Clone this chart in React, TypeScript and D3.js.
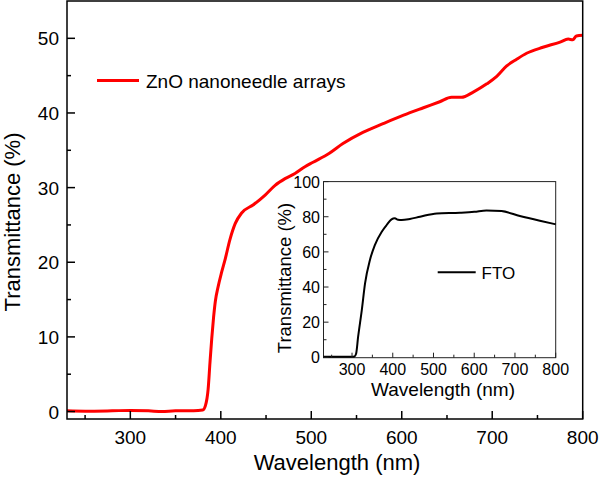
import React from "react";
import * as d3 from "d3";

// ---- data ----
const znoWavelength = [230, 250, 280, 300, 320, 335, 350, 370, 380, 383, 386, 388, 390, 392, 394, 397, 401, 405, 410, 416, 423, 436, 449, 460, 471, 482, 493, 502, 520, 535, 557, 580, 602, 624, 642, 655, 666, 679, 694, 705, 716, 727, 738, 756, 775, 784, 789, 793, 800];
const znoTransmittance = [0.1, 0.05, 0.1, 0.15, 0.1, 0.0, 0.1, 0.1, 0.2, 0.8, 3.0, 6.5, 9.8, 12.6, 14.8, 16.7, 18.7, 20.5, 23.0, 25.2, 26.6, 27.7, 29.0, 30.3, 31.2, 31.9, 32.8, 33.4, 34.6, 35.9, 37.4, 38.6, 39.7, 40.7, 41.5, 42.1, 42.1, 42.8, 43.9, 44.9, 46.3, 47.2, 48.0, 48.8, 49.5, 49.9, 49.8, 50.3, 50.4];

const ftoWavelength = [230, 280, 300, 306, 310, 315, 324, 332, 344, 356, 373, 385, 397, 405, 413, 422, 442, 467, 508, 565, 600, 630, 667, 712, 761, 798, 800];
const ftoTransmittance = [0.3, 0.3, 0.3, 0.5, 2.0, 11.7, 26.9, 42.1, 55.4, 63.9, 71.5, 75.3, 78.5, 79.1, 78.3, 78.1, 78.7, 80, 81.9, 82.3, 82.8, 83.6, 83.2, 80.4, 77.7, 75.8, 75.7];

const mainXTicks = [300, 400, 500, 600, 700, 800];
const mainXMinor = [250, 350, 450, 550, 650, 750];
const mainYTicks = [0, 10, 20, 30, 40, 50];
const mainYMinor = [5, 15, 25, 35, 45];
const insetXTicks = [300, 400, 500, 600, 700, 800];
const insetXMinor = [250, 350, 450, 550, 650, 750];
const insetYTicks = [0, 20, 40, 60, 80, 100];
const insetYMinor = [10, 30, 50, 70, 90];

const xLabel = "Wavelength (nm)";
const yLabel = "Transmittance (%)";
const znoName = "ZnO nanoneedle arrays";
const ftoName = "FTO";

const FONT = "'Liberation Sans', Arial, Helvetica, sans-serif";

export default function App() {
  // main scales
  const x = d3.scaleLinear().domain([230, 800]).range([67, 582.7]);
  const y = d3.scaleLinear().domain([-1, 55]).range([419, 1]);
  // inset scales
  const ix = d3.scaleLinear().domain([230, 800]).range([323.5, 555.7]);
  const iy = d3.scaleLinear().domain([0, 100]).range([357.3, 181.6]);

  const znoData = znoWavelength.map((w, i) => [w, znoTransmittance[i]] as [number, number]);
  const ftoData = ftoWavelength.map((w, i) => [w, ftoTransmittance[i]] as [number, number]);

  const mainLine = d3.line<[number, number]>().x(d => x(d[0])).y(d => y(d[1])).curve(d3.curveMonotoneX);
  const insetLine = d3.line<[number, number]>().x(d => ix(d[0])).y(d => iy(d[1])).curve(d3.curveMonotoneX);

  const [x0, x1] = x.range();
  const [yb, yt] = y.range();
  const [ix0, ix1] = ix.range();
  const iyb = 357.7;
  const iyt = iy(100);

  return (
    <svg width={600} height={478} style={{ position: "absolute", left: 0, top: 0, background: "#fff" }} fontFamily={FONT}>
      <rect x={0} y={0} width={600} height={478} fill="#fff" />
      {/* main data */}
      <path d={mainLine(znoData) || ""} fill="none" stroke="#ff0000" strokeWidth={3} strokeLinejoin="round" />

      {/* main frame */}
      <rect x={x0} y={yt} width={x1 - x0} height={yb - yt} fill="none" stroke="#000" strokeWidth={1.5} />

      {/* main x ticks */}
      {mainXTicks.map(t => (
        <g key={"mx" + t}>
          <line x1={x(t)} x2={x(t)} y1={yb} y2={yb - 8} stroke="#000" strokeWidth={1.5} />
          <text x={x(t)} y={444} fontSize={19} textAnchor="middle">{t}</text>
        </g>
      ))}
      {mainXMinor.map(t => (
        <line key={"mxm" + t} x1={x(t)} x2={x(t)} y1={yb} y2={yb - 4} stroke="#000" strokeWidth={1.5} />
      ))}
      {/* main y ticks */}
      {mainYTicks.map(t => (
        <g key={"my" + t}>
          <line x1={x0} x2={x0 + 8} y1={y(t)} y2={y(t)} stroke="#000" strokeWidth={1.5} />
          <text x={59} y={y(t) + 7} fontSize={19} textAnchor="end">{t}</text>
        </g>
      ))}
      {mainYMinor.map(t => (
        <line key={"mym" + t} x1={x0} x2={x0 + 4} y1={y(t)} y2={y(t)} stroke="#000" strokeWidth={1.5} />
      ))}

      {/* main axis titles */}
      <text x={337} y={470} fontSize={22} textAnchor="middle">{xLabel}</text>
      <text transform={`translate(20, ${(yb + yt) / 2 + 12}) rotate(-90)`} fontSize={22} textAnchor="middle">{yLabel}</text>

      {/* main legend */}
      <line x1={97} x2={139} y1={80.5} y2={80.5} stroke="#ff0000" strokeWidth={3} />
      <text x={146} y={87.5} fontSize={19}>{znoName}</text>

      {/* inset */}
      <rect x={ix0} y={iyt} width={ix1 - ix0} height={iyb - iyt} fill="#fff" stroke="#222" strokeWidth={1} />
      <path d={insetLine(ftoData) || ""} fill="none" stroke="#000" strokeWidth={2} strokeLinejoin="round" />
      {insetXTicks.map(t => (
        <g key={"ix" + t}>
          <line x1={ix(t)} x2={ix(t)} y1={iyb} y2={iyb - 5} stroke="#222" strokeWidth={1} />
          <text x={ix(t)} y={375} fontSize={16} textAnchor="middle">{t}</text>
        </g>
      ))}
      {insetXMinor.map(t => (
        <line key={"ixm" + t} x1={ix(t)} x2={ix(t)} y1={iyb} y2={iyb - 3} stroke="#222" strokeWidth={1} />
      ))}
      {insetYTicks.map(t => (
        <g key={"iy" + t}>
          <line x1={ix0} x2={ix0 + 5} y1={iy(t)} y2={iy(t)} stroke="#222" strokeWidth={1} />
          <text x={320} y={iy(t) + 6} fontSize={16} textAnchor="end">{t}</text>
        </g>
      ))}
      {insetYMinor.map(t => (
        <line key={"iym" + t} x1={ix0} x2={ix0 + 3} y1={iy(t)} y2={iy(t)} stroke="#222" strokeWidth={1} />
      ))}
      <text x={443} y={396} fontSize={19} textAnchor="middle">{xLabel}</text>
      <text transform={`translate(291, 278) rotate(-90)`} fontSize={18.5} textAnchor="middle">{yLabel}</text>

      {/* inset legend */}
      <line x1={437.7} x2={475.7} y1={272.3} y2={272.3} stroke="#000" strokeWidth={2} />
      <text x={481.5} y={279} fontSize={17}>{ftoName}</text>
    </svg>
  );
}
